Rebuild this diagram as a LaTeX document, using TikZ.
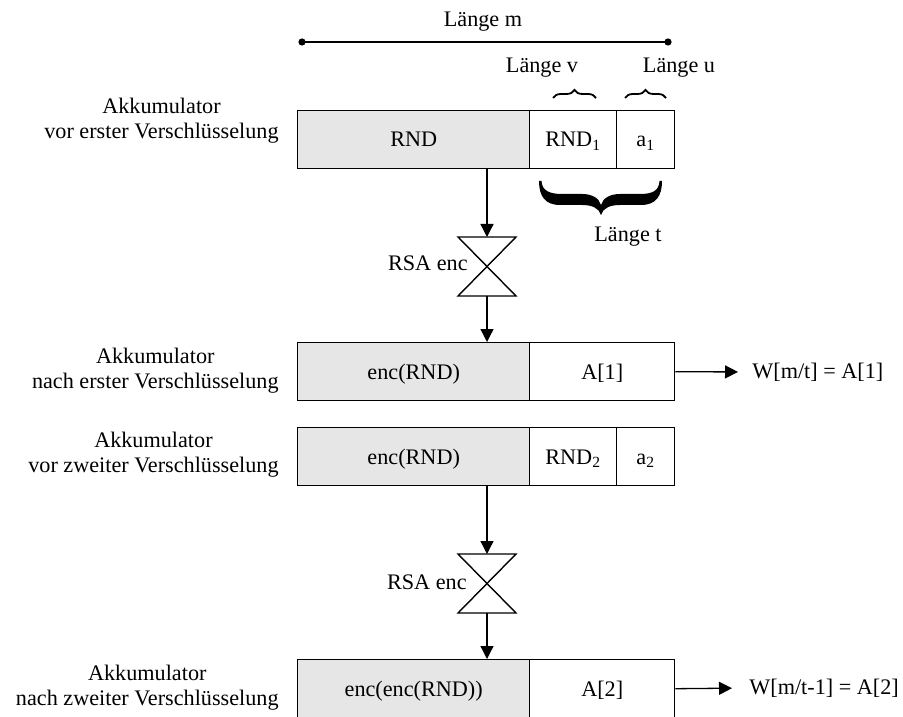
\documentclass[tikz,border=0pt]{standalone}
\usepackage{fontspec}
\setmainfont{Liberation Serif}
\usetikzlibrary{arrows.meta,decorations.pathreplacing}
\definecolor{cellgray}{RGB}{230,230,230}
\tikzset{
  txt/.style={font=\fontsize{11.1}{12.4}\selectfont, inner sep=0pt},
  rowlabel/.style={txt, align=center, anchor=east},
  cell/.style={draw, line width=0.7pt, minimum height=29pt, inner sep=0pt,
    text height=7.3pt, text depth=0pt,
    anchor=north west, font=\fontsize{11.1}{12.4}\selectfont},
  grayc/.style={cell, fill=cellgray, minimum width=116pt},
  subc/.style={cell, minimum width=43.5pt},
  tagc/.style={cell, minimum width=29pt},
  resc/.style={cell, minimum width=72.5pt},
  arr/.style={line width=0.65pt, -{Triangle[length=6.5pt,width=6.5pt]}},
  thin brace/.style={line width=0.9pt, decorate, decoration={brace, amplitude=4pt}},
  hourglass/.style={line width=0.7pt, line join=miter},
}
\begin{document}
\begin{tikzpicture}[x=0.5pt,y=-0.5pt]
\useasboundingbox (0,0) rectangle (903,716);

% overall length m
\node[txt] (lm) at (483,22) {Länge m};
\coordinate (mL) at (302,42);
\coordinate (mR) at (668,42);
\draw[line width=0.7pt] (mL) -- (mR);
\fill (mL) circle[radius=1.8pt];
\fill (mR) circle[radius=1.8pt];

% row 1: accumulator before first encryption
\node[grayc] (r1g) at (297,110) {RND};
\node[subc] (r1v) at (529,110) {RND\textsubscript{1}};
\node[tagc] (r1a) at (616,110) {a\textsubscript{1}};
\node[rowlabel] (l1) at (279,121) {Akkumulator\\vor erster Verschlüsselung};

% lengths v and u
\node[txt] (lv) at (542,68) {Länge v};
\node[txt] (lu) at (679,68) {Länge u};
\coordinate (bv1) at (553,98); \coordinate (bv2) at (596,98);
\coordinate (bu1) at (625,98); \coordinate (bu2) at (666,98);
\draw[thin brace] (bv1) -- (bv2);
\draw[thin brace] (bu1) -- (bu2);

% bold brace for length t
\fill (539,181) .. controls (539,196) and (545,205) .. (560,205)
  -- (582,205) .. controls (592,205) and (599,208) .. (601,215)
  .. controls (603,208) and (610,205) .. (620,205)
  -- (641,205) .. controls (656,205) and (662,196) .. (662,181)
  -- (659.5,181) .. controls (659,191) and (652,194) .. (640,194)
  -- (620,194) .. controls (610,194) and (603,198) .. (601,205)
  .. controls (599,198) and (592,194) .. (582,194)
  -- (562,194) .. controls (550,194) and (542,191) .. (541.5,181) -- cycle;
\node[txt] (lt) at (628,237) {Länge t};

% first RSA encryption
\coordinate (hg1t) at (487,237);
\coordinate (hg1b) at (487,296);
\draw[hourglass] (458,237) -- (516,237) -- (458,296) -- (516,296) -- cycle;
\node[txt, anchor=east] (rsa1) at (468,263) {RSA enc};
\draw[arr] (r1g.south -| hg1t) -- (hg1t);

% row 2: accumulator after first encryption
\node[grayc] (r2g) at (297,342) {enc(RND)};
\node[resc] (r2A) at (529,342) {A[1]};
\node[rowlabel] (l2) at (279,371) {Akkumulator\\nach erster Verschlüsselung};
\draw[arr] (hg1b) -- (hg1b |- r2g.north);
\node[txt, anchor=west] (w1) at (752,372) {W[m/t] = A[1]};
\draw[arr, shorten >=7pt] (r2A.east) -- (w1.west);

% row 3: accumulator before second encryption
\node[grayc] (r3g) at (297,427) {enc(RND)};
\node[subc] (r3v) at (529,427) {RND\textsubscript{2}};
\node[tagc] (r3a) at (616,427) {a\textsubscript{2}};
\node[rowlabel] (l3) at (279,455) {Akkumulator\\vor zweiter Verschlüsselung};

% second RSA encryption
\coordinate (hg2t) at (487,554);
\coordinate (hg2b) at (487,613);
\draw[hourglass] (458,554) -- (516,554) -- (458,613) -- (516,613) -- cycle;
\node[txt, anchor=east] (rsa2) at (467,582) {RSA enc};
\draw[arr] (r3g.south -| hg2t) -- (hg2t);

% row 4: accumulator after second encryption
\node[grayc] (r4g) at (297,659) {enc(enc(RND))};
\node[resc] (r4A) at (529,659) {A[2]};
\node[rowlabel] (l4) at (279,688) {Akkumulator\\nach zweiter Verschlüsselung};
\draw[arr] (hg2b) -- (hg2b |- r4g.north);
\node[txt, anchor=west] (w2) at (749,688) {W[m/t-1] = A[2]};
\draw[arr, shorten >=8.5pt] (r4A.east) -- (w2.west);
\end{tikzpicture}
\end{document}
